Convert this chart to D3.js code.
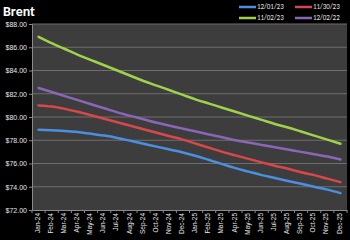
<!DOCTYPE html>
<html>
<head>
<meta charset="utf-8">
<script src="https://cdn.jsdelivr.net/npm/d3@7"></script>
<style>
  html, body { margin: 0; padding: 0; background: #000; }
  svg { display: block; font-family: Calibri, "Liberation Sans", "DejaVu Sans", sans-serif; }
</style>
</head>
<body>
<svg id="chart" width="350" height="240"></svg>
<script>
const months = ['Jan-24', 'Feb-24', 'Mar-24', 'Apr-24', 'May-24', 'Jun-24', 'Jul-24', 'Aug-24', 'Sep-24', 'Oct-24', 'Nov-24', 'Dec-24',
  'Jan-25', 'Feb-25', 'Mar-25', 'Apr-25', 'May-25', 'Jun-25', 'Jul-25', 'Aug-25', 'Sep-25', 'Oct-25', 'Nov-25', 'Dec-25'];

const s120123 = [78.9, 78.85, 78.8, 78.7, 78.55, 78.4, 78.2, 77.95, 77.7, 77.45, 77.2, 76.95,
  76.65, 76.3, 75.95, 75.6, 75.3, 75.0, 74.75, 74.5, 74.25, 74.0, 73.75, 73.45];
const s113023 = [81.0, 80.9, 80.7, 80.45, 80.15, 79.85, 79.55, 79.25, 78.95, 78.65, 78.35, 78.05,
  77.7, 77.35, 77.0, 76.7, 76.4, 76.1, 75.8, 75.55, 75.25, 75.0, 74.7, 74.4];
const s110223 = [86.9, 86.35, 85.85, 85.35, 84.9, 84.45, 84.0, 83.55, 83.1, 82.7, 82.3, 81.9,
  81.5, 81.15, 80.8, 80.45, 80.1, 79.75, 79.4, 79.1, 78.75, 78.4, 78.05, 77.7];
const s120222 = [82.5, 82.15, 81.8, 81.45, 81.1, 80.75, 80.4, 80.1, 79.8, 79.5, 79.25, 79.0,
  78.75, 78.5, 78.25, 78.0, 77.8, 77.6, 77.4, 77.2, 77.0, 76.8, 76.6, 76.35];

const yTicks = [72, 74, 76, 78, 80, 82, 84, 86, 88];

const series = [
  { name: '12/01/23', values: s120123, color: '#4a8fe0' },
  { name: '11/30/23', values: s113023, color: '#d9474a' },
  { name: '11/02/23', values: s110223, color: '#9fd14a' },
  { name: '12/02/22', values: s120222, color: '#8a66b8' }
];
// drawing order: later ones on top
const drawOrder = [series[3], series[2], series[1], series[0]];

const plot = { left: 32, right: 347, top: 24, bottom: 210 };

const svg = d3.select('#chart');

const x = d3.scaleBand().domain(months).range([plot.left, plot.right]);
const y = d3.scaleLinear().domain([72, 88]).range([plot.bottom, plot.top]);

// Plot background
svg.append('rect')
  .attr('x', plot.left)
  .attr('y', plot.top)
  .attr('width', plot.right - plot.left)
  .attr('height', plot.bottom - plot.top)
  .attr('fill', '#3d3d3d');

// Gridlines
svg.append('g')
  .selectAll('line')
  .data(yTicks.slice(1))
  .enter()
  .append('line')
  .attr('x1', plot.left)
  .attr('x2', plot.right)
  .attr('y1', (d) => y(d))
  .attr('y2', (d) => y(d))
  .attr('stroke', '#6e6e6e')
  .attr('stroke-width', 1);

// Y axis
const yAxis = svg.append('g')
  .attr('transform', `translate(${plot.left},0)`)
  .call(d3.axisLeft(y).tickValues(yTicks).tickSize(3).tickPadding(2).tickFormat((d) => `$${d.toFixed(2)}`));
yAxis.select('.domain').attr('stroke', '#8a8a8a');
yAxis.selectAll('.tick line').attr('stroke', '#8a8a8a');
yAxis.selectAll('text').attr('fill', '#e8e8e8').attr('font-size', 7);

// X axis
const xAxis = svg.append('g')
  .attr('transform', `translate(0,${plot.bottom})`)
  .call(d3.axisBottom(x).tickSize(0).tickPadding(3));
xAxis.select('.domain').attr('stroke', '#8a8a8a');
xAxis.selectAll('text')
  .attr('fill', '#e8e8e8')
  .attr('font-size', 6.5)
  .attr('transform', 'rotate(-90)')
  .attr('text-anchor', 'end')
  .attr('dx', '-3')
  .attr('dy', '-0.1em')
  .attr('x', 0)
  .attr('y', 0)
  .style('dominant-baseline', 'middle');

// tick marks at category boundaries
svg.append('g')
  .selectAll('line')
  .data(months.concat(['end']))
  .enter()
  .append('line')
  .attr('x1', (d, i) => plot.left + i * x.bandwidth())
  .attr('x2', (d, i) => plot.left + i * x.bandwidth())
  .attr('y1', plot.bottom)
  .attr('y2', plot.bottom + 3)
  .attr('stroke', '#8a8a8a');

// Lines
const line = d3.line()
  .x((d, i) => x(months[i]) + x.bandwidth() / 2)
  .y((d) => y(d))
  .curve(d3.curveMonotoneX);

svg.append('g')
  .selectAll('path')
  .data(drawOrder)
  .enter()
  .append('path')
  .attr('d', (d) => line(d.values))
  .attr('fill', 'none')
  .attr('stroke', (d) => d.color)
  .attr('stroke-width', 2.5)
  .attr('stroke-linecap', 'round');

// Title
svg.append('text')
  .attr('x', 3)
  .attr('y', 16)
  .attr('fill', '#ffffff')
  .attr('font-size', 14)
  .attr('font-weight', 'bold')
  .text('Brent');

// Legend
const legendPos = [[239, 7], [295, 7], [239, 18], [295, 18]];
const legend = svg.append('g')
  .selectAll('g')
  .data(series)
  .enter()
  .append('g')
  .attr('transform', (d, i) => `translate(${legendPos[i][0]},${legendPos[i][1]})`);

legend.append('line')
  .attr('x1', 0)
  .attr('x2', 17)
  .attr('stroke', (d) => d.color)
  .attr('stroke-width', 2.5);

legend.append('text')
  .attr('x', 18)
  .attr('y', 0)
  .attr('dy', '0.35em')
  .attr('fill', '#e0e0e0')
  .attr('font-size', 7)
  .text((d) => d.name);
</script>
</body>
</html>
